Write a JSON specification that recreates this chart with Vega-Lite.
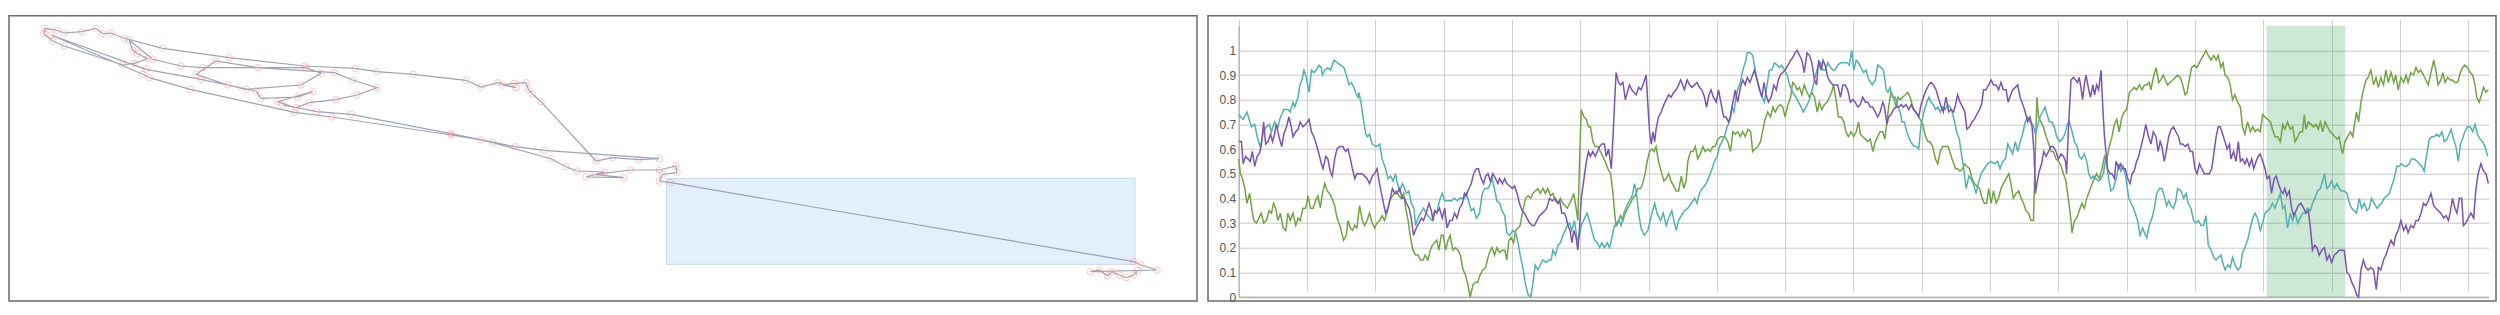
{
"$schema": "https://vega.github.io/schema/vega-lite/v6.json",
"background": "white",
"padding": {"left": 8, "top": 14.7, "right": 0, "bottom": 0},
"spacing": 9,
"config": {"view": {"stroke": "#6b6b6b", "strokeWidth": 1.5}},
"datasets": {
"box": [{"x1": 657.3, "x2": 1126, "y1": 36.7, "y2": 122.7}],
"track": [
{"x":273.7,"y":196},{"x":308,"y":189.3},{"x":342,"y":186.7},{"x":442,"y":167.3},{"x":506,"y":154.3},{"x":535.3,"y":150.7},
{"x":650.3,"y":142.3},{"x":629.7,"y":141.3},{"x":603.7,"y":143.3},{"x":587,"y":140},{"x":532,"y":199.3},{"x":523.7,"y":206.7},{"x":519.3,"y":211.7},{"x":517,"y":218.3},{"x":505.3,"y":217.7},{"x":493.7,"y":216},{"x":507,"y":213.3},{"x":488.7,"y":218.3},{"x":472,"y":214},{"x":457,"y":220.7},{"x":404.3,"y":226.7},{"x":368,"y":229.3},{"x":346,"y":232.7},{"x":295.3,"y":235},{"x":220.3,"y":243.3},{"x":153.7,"y":252.7},{"x":115.3,"y":262.7},{"x":102,"y":268},{"x":93.7,"y":267.3},{"x":87,"y":272.7},{"x":73,"y":269.3},{"x":55.3,"y":268},{"x":48,"y":270.7},{"x":36,"y":272.7},{"x":34.7,"y":267.3},{"x":43.7,"y":260},{"x":55.3,"y":255},{"x":113.7,"y":236},{"x":125.3,"y":237.7},{"x":138.7,"y":242.3},{"x":128.7,"y":247.3},{"x":123.7,"y":250.7},{"x":120.3,"y":260.7},{"x":143.7,"y":241.7},{"x":172,"y":235},{"x":193.7,"y":233.3},{"x":297,"y":233.3},{"x":312,"y":227.7},{"x":292,"y":216},{"x":237,"y":211.7},{"x":218.7,"y":216},{"x":187,"y":226.7},{"x":207,"y":240},{"x":248.7,"y":233.3},{"x":325.3,"y":228.3},{"x":343.7,"y":221},{"x":368,"y":213.3},{"x":348,"y":206},{"x":327,"y":201.3},{"x":300.3,"y":198.3},{"x":287,"y":193.3},{"x":268.7,"y":199.3},{"x":303.7,"y":209.3},{"x":288.7,"y":204},{"x":252,"y":202.7},{"x":247,"y":210},{"x":192,"y":221.7},{"x":137,"y":231.7},{"x":42,"y":266},{"x":133.7,"y":226.7},{"x":140.3,"y":223.3},{"x":181.3,"y":211.7},{"x":285.3,"y":188.7},{"x":322.7,"y":184},{"x":442,"y":166},{"x":472,"y":161},{"x":483.7,"y":158.3},{"x":542,"y":142.3},{"x":557,"y":134.3},{"x":568,"y":130},{"x":595.3,"y":129},{"x":577,"y":124},{"x":614.7,"y":123.3},{"x":586,"y":126.7},{"x":621.3,"y":131},{"x":650.3,"y":131},{"x":667,"y":135},{"x":668,"y":128.3},{"x":653.7,"y":126.7},{"x":650.3,"y":120},{"x":662,"y":118.3},{"x":1124.7,"y":39.3},{"x":1132,"y":36},{"x":1148,"y":31},{"x":1081.3,"y":29.3},{"x":1090.3,"y":31},{"x":1098.7,"y":25},{"x":1102.7,"y":29.3},{"x":1110.3,"y":26},{"x":1117,"y":23.3},{"x":1124.7,"y":26},{"x":1128.7,"y":30.7}
],
"band": [{"start": 301, "end": 324}],
"teal": [
{"t":0,"v":0.74},{"t":1.3,"v":0.72},{"t":2.4,"v":0.75},{"t":3.7,"v":0.69},{"t":4.7,"v":0.70},{"t":5.4,"v":0.65},{"t":6.3,"v":0.61},{"t":7.3,"v":0.67},{"t":8.1,"v":0.69},{"t":9,"v":0.70},{"t":9.6,"v":0.67},{"t":10.5,"v":0.71},{"t":11.5,"v":0.69},{"t":12,"v":0.72},{"t":13.2,"v":0.76},{"t":14.4,"v":0.76},{"t":15.1,"v":0.75},{"t":15.9,"v":0.79},{"t":16.4,"v":0.77},{"t":17.4,"v":0.81},{"t":17.9,"v":0.86},{"t":18.5,"v":0.88},{"t":19.1,"v":0.92},{"t":19.8,"v":0.89},{"t":20.6,"v":0.83},{"t":21.3,"v":0.92},{"t":22,"v":0.91},{"t":22.7,"v":0.92},{"t":23.5,"v":0.94},{"t":24.2,"v":0.93},{"t":24.5,"v":0.90},{"t":25.2,"v":0.92},{"t":26.1,"v":0.93},{"t":26.9,"v":0.92},{"t":27.9,"v":0.96},{"t":28.8,"v":0.95},{"t":29.8,"v":0.94},{"t":30.8,"v":0.93},{"t":31.5,"v":0.90},{"t":32.3,"v":0.86},{"t":33,"v":0.87},{"t":33.7,"v":0.85},{"t":34.2,"v":0.83},{"t":34.9,"v":0.81},{"t":35.2,"v":0.83},{"t":35.9,"v":0.78},{"t":36.6,"v":0.71},{"t":37.2,"v":0.66},{"t":37.7,"v":0.65},{"t":38.3,"v":0.66},{"t":39.1,"v":0.62},{"t":40.3,"v":0.61},{"t":41.3,"v":0.62},{"t":42,"v":0.56},{"t":43,"v":0.52},{"t":43.7,"v":0.48},{"t":44.5,"v":0.49},{"t":45.2,"v":0.47},{"t":45.9,"v":0.50},{"t":46.3,"v":0.47},{"t":47.1,"v":0.43},{"t":47.9,"v":0.46},{"t":48.6,"v":0.44},{"t":49.1,"v":0.42},{"t":49.8,"v":0.43},{"t":50.5,"v":0.38},{"t":51.3,"v":0.36},{"t":51.8,"v":0.29},{"t":52.5,"v":0.32},{"t":53.3,"v":0.34},{"t":54.1,"v":0.36},{"t":54.9,"v":0.34},{"t":55.9,"v":0.32},{"t":56.7,"v":0.31},{"t":57.4,"v":0.35},{"t":58,"v":0.34},{"t":58.8,"v":0.39},{"t":59.6,"v":0.42},{"t":60.3,"v":0.39},{"t":61.3,"v":0.39},{"t":62.3,"v":0.39},{"t":63.2,"v":0.40},{"t":63.9,"v":0.39},{"t":64.7,"v":0.40},{"t":65.5,"v":0.40},{"t":66.1,"v":0.40},{"t":66.6,"v":0.42},{"t":67.3,"v":0.39},{"t":68.1,"v":0.35},{"t":68.8,"v":0.36},{"t":69.6,"v":0.32},{"t":70.5,"v":0.34},{"t":71.3,"v":0.42},{"t":72.1,"v":0.44},{"t":73,"v":0.44},{"t":73.7,"v":0.46},{"t":74.2,"v":0.48},{"t":75,"v":0.43},{"t":75.6,"v":0.39},{"t":76.4,"v":0.38},{"t":77.1,"v":0.35},{"t":77.9,"v":0.33},{"t":78.5,"v":0.26},{"t":79.3,"v":0.25},{"t":80.3,"v":0.27},{"t":81.1,"v":0.26},{"t":81.8,"v":0.22},{"t":82.4,"v":0.17},{"t":83.2,"v":0.12},{"t":84,"v":0.05},{"t":84.7,"v":0.01},{"t":85.5,"v":0.00},{"t":86.1,"v":0.05},{"t":86.8,"v":0.13},{"t":87.6,"v":0.11},{"t":88.3,"v":0.13},{"t":89,"v":0.15},{"t":90,"v":0.14},{"t":90.8,"v":0.15},{"t":91.5,"v":0.15},{"t":92,"v":0.19},{"t":92.7,"v":0.17},{"t":93.5,"v":0.21},{"t":94.2,"v":0.22},{"t":94.9,"v":0.25},{"t":95.6,"v":0.27},{"t":96.2,"v":0.29},{"t":96.9,"v":0.30},{"t":97.5,"v":0.27},{"t":98.3,"v":0.31},{"t":99.1,"v":0.23},{"t":99.8,"v":0.25},{"t":100.3,"v":0.29},{"t":101.3,"v":0.32},{"t":102,"v":0.34},{"t":102.7,"v":0.31},{"t":103.4,"v":0.27},{"t":104.2,"v":0.23},{"t":105,"v":0.22},{"t":105.7,"v":0.20},{"t":106.3,"v":0.22},{"t":107.1,"v":0.20},{"t":107.9,"v":0.22},{"t":108.6,"v":0.20},{"t":109.4,"v":0.25},{"t":110,"v":0.29},{"t":110.7,"v":0.29},{"t":111.3,"v":0.31},{"t":112,"v":0.29},{"t":112.8,"v":0.34},{"t":113.6,"v":0.37},{"t":114.4,"v":0.39},{"t":115.2,"v":0.41},{"t":115.9,"v":0.46},{"t":116.4,"v":0.43},{"t":117.1,"v":0.34},{"t":117.8,"v":0.28},{"t":118.8,"v":0.25},{"t":119.8,"v":0.27},{"t":120.8,"v":0.33},{"t":121.8,"v":0.38},{"t":122.5,"v":0.34},{"t":123.5,"v":0.31},{"t":124.3,"v":0.34},{"t":125.2,"v":0.29},{"t":125.9,"v":0.32},{"t":126.8,"v":0.35},{"t":127.6,"v":0.30},{"t":128.1,"v":0.27},{"t":128.8,"v":0.31},{"t":129.6,"v":0.33},{"t":130.5,"v":0.35},{"t":131.5,"v":0.36},{"t":132.5,"v":0.38},{"t":133.5,"v":0.40},{"t":134.2,"v":0.38},{"t":134.9,"v":0.42},{"t":135.7,"v":0.44},{"t":136.4,"v":0.45},{"t":137.2,"v":0.47},{"t":137.8,"v":0.49},{"t":138.6,"v":0.52},{"t":139.3,"v":0.55},{"t":140.1,"v":0.57},{"t":140.8,"v":0.61},{"t":141.5,"v":0.63},{"t":142.2,"v":0.65},{"t":143,"v":0.69},{"t":143.7,"v":0.71},{"t":144.4,"v":0.77},{"t":145,"v":0.75},{"t":145.7,"v":0.82},{"t":146.3,"v":0.85},{"t":146.9,"v":0.87},{"t":147.6,"v":0.92},{"t":148.3,"v":0.95},{"t":148.9,"v":0.99},{"t":149.8,"v":0.99},{"t":150.5,"v":0.98},{"t":151,"v":0.94},{"t":151.8,"v":0.88},{"t":152.6,"v":0.84},{"t":153.3,"v":0.81},{"t":153.9,"v":0.79},{"t":154.6,"v":0.85},{"t":155.4,"v":0.92},{"t":156.1,"v":0.92},{"t":156.9,"v":0.95},{"t":157.7,"v":0.94},{"t":158.3,"v":0.93},{"t":159,"v":0.94},{"t":159.8,"v":0.92},{"t":160.6,"v":0.90},{"t":161.3,"v":0.86},{"t":162.2,"v":0.83},{"t":163.2,"v":0.81},{"t":163.9,"v":0.79},{"t":164.7,"v":0.77},{"t":165.3,"v":0.75},{"t":166.1,"v":0.77},{"t":167.1,"v":0.80},{"t":168.1,"v":0.85},{"t":168.9,"v":0.90},{"t":169.5,"v":0.93},{"t":170.3,"v":0.95},{"t":171,"v":0.92},{"t":171.8,"v":0.92},{"t":172.5,"v":0.95},{"t":173.3,"v":0.93},{"t":174,"v":0.92},{"t":174.6,"v":0.92},{"t":175.4,"v":0.94},{"t":176.2,"v":0.95},{"t":177.2,"v":0.95},{"t":178.1,"v":0.95},{"t":178.8,"v":0.94},{"t":179.5,"v":1.0},{"t":180.1,"v":0.92},{"t":180.8,"v":0.96},{"t":181.5,"v":0.95},{"t":182.2,"v":0.93},{"t":183,"v":0.91},{"t":183.7,"v":0.92},{"t":184.5,"v":0.88},{"t":185.5,"v":0.86},{"t":186.4,"v":0.88},{"t":187.1,"v":0.94},{"t":188.1,"v":0.93},{"t":188.8,"v":0.92},{"t":189.6,"v":0.84},{"t":190.1,"v":0.83},{"t":190.7,"v":0.85},{"t":191.5,"v":0.81},{"t":192.3,"v":0.81},{"t":193,"v":0.77},{"t":193.7,"v":0.75},{"t":194.2,"v":0.71},{"t":194.9,"v":0.71},{"t":195.6,"v":0.67},{"t":196.4,"v":0.64},{"t":197.2,"v":0.62},{"t":197.8,"v":0.61},{"t":198.5,"v":0.61},{"t":199.1,"v":0.60},{"t":199.8,"v":0.70},{"t":200.8,"v":0.76},{"t":201.5,"v":0.79},{"t":202.1,"v":0.81},{"t":202.7,"v":0.79},{"t":203.4,"v":0.78},{"t":204,"v":0.76},{"t":204.7,"v":0.77},{"t":205.4,"v":0.75},{"t":206.1,"v":0.77},{"t":206.9,"v":0.76},{"t":207.6,"v":0.78},{"t":208.3,"v":0.77},{"t":208.9,"v":0.75},{"t":209.6,"v":0.71},{"t":210.2,"v":0.67},{"t":211,"v":0.64},{"t":211.6,"v":0.58},{"t":212.3,"v":0.52},{"t":213,"v":0.44},{"t":213.8,"v":0.49},{"t":214.4,"v":0.48},{"t":215.1,"v":0.46},{"t":215.9,"v":0.42},{"t":216.7,"v":0.47},{"t":217.4,"v":0.50},{"t":218.3,"v":0.52},{"t":219.3,"v":0.54},{"t":220.3,"v":0.55},{"t":221.3,"v":0.54},{"t":222.2,"v":0.55},{"t":222.9,"v":0.52},{"t":223.7,"v":0.55},{"t":224.5,"v":0.56},{"t":225.2,"v":0.62},{"t":225.9,"v":0.60},{"t":226.6,"v":0.58},{"t":227.4,"v":0.63},{"t":228.1,"v":0.59},{"t":228.8,"v":0.63},{"t":229.5,"v":0.66},{"t":230.3,"v":0.71},{"t":231,"v":0.73},{"t":231.7,"v":0.71},{"t":232.5,"v":0.70},{"t":233.3,"v":0.66},{"t":234,"v":0.70},{"t":234.6,"v":0.73},{"t":235.4,"v":0.75},{"t":236.1,"v":0.77},{"t":236.7,"v":0.74},{"t":237.4,"v":0.71},{"t":238.1,"v":0.71},{"t":238.8,"v":0.69},{"t":239.5,"v":0.65},{"t":240.3,"v":0.63},{"t":241.1,"v":0.64},{"t":241.9,"v":0.66},{"t":242.6,"v":0.70},{"t":243.2,"v":0.71},{"t":244,"v":0.67},{"t":244.7,"v":0.63},{"t":245.5,"v":0.61},{"t":246.1,"v":0.57},{"t":246.8,"v":0.56},{"t":247.6,"v":0.58},{"t":248.3,"v":0.55},{"t":248.9,"v":0.50},{"t":249.6,"v":0.48},{"t":250.2,"v":0.49},{"t":251,"v":0.48},{"t":251.8,"v":0.47},{"t":252.5,"v":0.48},{"t":253.2,"v":0.50},{"t":253.9,"v":0.57},{"t":254.7,"v":0.48},{"t":255.4,"v":0.43},{"t":256.1,"v":0.44},{"t":256.9,"v":0.48},{"t":257.7,"v":0.54},{"t":258.3,"v":0.51},{"t":259,"v":0.53},{"t":259.8,"v":0.48},{"t":260.6,"v":0.40},{"t":261.3,"v":0.38},{"t":262,"v":0.36},{"t":262.5,"v":0.34},{"t":263.2,"v":0.31},{"t":263.9,"v":0.25},{"t":264.7,"v":0.28},{"t":265.2,"v":0.26},{"t":265.9,"v":0.24},{"t":266.6,"v":0.29},{"t":267.4,"v":0.32},{"t":268.1,"v":0.36},{"t":268.8,"v":0.42},{"t":269.6,"v":0.44},{"t":270.3,"v":0.44},{"t":271,"v":0.41},{"t":271.7,"v":0.37},{"t":272.3,"v":0.39},{"t":273,"v":0.37},{"t":273.7,"v":0.36},{"t":274.4,"v":0.39},{"t":274.9,"v":0.44},{"t":275.9,"v":0.43},{"t":276.7,"v":0.40},{"t":277.4,"v":0.42},{"t":278,"v":0.38},{"t":278.8,"v":0.36},{"t":279.6,"v":0.31},{"t":280.3,"v":0.30},{"t":281,"v":0.31},{"t":281.8,"v":0.29},{"t":282.5,"v":0.29},{"t":283.2,"v":0.33},{"t":283.9,"v":0.21},{"t":284.7,"v":0.19},{"t":285.5,"v":0.16},{"t":286.2,"v":0.15},{"t":286.8,"v":0.16},{"t":287.6,"v":0.17},{"t":288.1,"v":0.14},{"t":288.8,"v":0.11},{"t":289.6,"v":0.13},{"t":290.3,"v":0.12},{"t":291,"v":0.16},{"t":291.7,"v":0.13},{"t":292.5,"v":0.11},{"t":293.3,"v":0.12},{"t":293.9,"v":0.18},{"t":294.6,"v":0.20},{"t":295.4,"v":0.23},{"t":296.2,"v":0.28},{"t":296.9,"v":0.32},{"t":297.6,"v":0.34},{"t":298.3,"v":0.32},{"t":299.1,"v":0.27},{"t":299.8,"v":0.30},{"t":300.5,"v":0.34},{"t":301.3,"v":0.35},{"t":302,"v":0.36},{"t":302.7,"v":0.38},{"t":303.4,"v":0.36},{"t":304.2,"v":0.39},{"t":305,"v":0.42},{"t":305.7,"v":0.36},{"t":306.3,"v":0.37},{"t":307.1,"v":0.28},{"t":307.9,"v":0.34},{"t":308.6,"v":0.31},{"t":309.3,"v":0.34},{"t":310.1,"v":0.30},{"t":310.8,"v":0.32},{"t":311.5,"v":0.34},{"t":312.2,"v":0.34},{"t":313,"v":0.36},{"t":313.8,"v":0.35},{"t":314.4,"v":0.38},{"t":315.1,"v":0.40},{"t":315.9,"v":0.43},{"t":316.7,"v":0.44},{"t":317.4,"v":0.47},{"t":317.9,"v":0.50},{"t":318.6,"v":0.44},{"t":319.3,"v":0.45},{"t":320,"v":0.47},{"t":320.8,"v":0.44},{"t":321.6,"v":0.46},{"t":322.2,"v":0.44},{"t":322.9,"v":0.43},{"t":323.7,"v":0.43},{"t":324.5,"v":0.42},{"t":325.2,"v":0.38},{"t":325.9,"v":0.36},{"t":326.6,"v":0.35},{"t":327.3,"v":0.34},{"t":328.1,"v":0.40},{"t":328.8,"v":0.36},{"t":329.6,"v":0.38},{"t":330.3,"v":0.35},{"t":331,"v":0.36},{"t":331.7,"v":0.40},{"t":332.5,"v":0.38},{"t":333.3,"v":0.36},{"t":333.9,"v":0.37},{"t":334.6,"v":0.38},{"t":335.4,"v":0.40},{"t":336.2,"v":0.41},{"t":336.9,"v":0.42},{"t":337.6,"v":0.45},{"t":338.3,"v":0.48},{"t":339.1,"v":0.53},{"t":339.8,"v":0.53},{"t":340.5,"v":0.54},{"t":341.3,"v":0.53},{"t":342,"v":0.53},{"t":342.7,"v":0.54},{"t":343.4,"v":0.56},{"t":344.2,"v":0.56},{"t":345,"v":0.55},{"t":345.7,"v":0.54},{"t":346.4,"v":0.53},{"t":347.1,"v":0.51},{"t":347.9,"v":0.58},{"t":348.6,"v":0.64},{"t":349.3,"v":0.65},{"t":350,"v":0.65},{"t":350.8,"v":0.66},{"t":351.5,"v":0.65},{"t":352.3,"v":0.67},{"t":353,"v":0.63},{"t":353.8,"v":0.64},{"t":354.4,"v":0.66},{"t":355,"v":0.68},{"t":355.7,"v":0.64},{"t":356.4,"v":0.61},{"t":357.1,"v":0.55},{"t":357.7,"v":0.62},{"t":358.3,"v":0.64},{"t":359,"v":0.67},{"t":359.8,"v":0.69},{"t":360.6,"v":0.69},{"t":361.3,"v":0.67},{"t":362,"v":0.70},{"t":362.7,"v":0.66},{"t":363.5,"v":0.64},{"t":364.2,"v":0.63},{"t":364.9,"v":0.61},{"t":365.7,"v":0.57}
],
"purple": [
{"t":0,"v":0.63},{"t":0.8,"v":0.63},{"t":1.3,"v":0.54},{"t":2,"v":0.57},{"t":2.7,"v":0.56},{"t":3.4,"v":0.55},{"t":4,"v":0.59},{"t":4.7,"v":0.53},{"t":5.4,"v":0.57},{"t":6,"v":0.58},{"t":6.6,"v":0.61},{"t":7.3,"v":0.71},{"t":7.9,"v":0.62},{"t":8.6,"v":0.63},{"t":9.3,"v":0.66},{"t":9.9,"v":0.63},{"t":10.5,"v":0.66},{"t":11,"v":0.70},{"t":11.8,"v":0.65},{"t":12.6,"v":0.61},{"t":13.2,"v":0.66},{"t":14,"v":0.69},{"t":14.7,"v":0.73},{"t":15.4,"v":0.69},{"t":15.9,"v":0.65},{"t":16.7,"v":0.67},{"t":17.4,"v":0.68},{"t":18,"v":0.71},{"t":18.8,"v":0.69},{"t":19.6,"v":0.70},{"t":20.6,"v":0.72},{"t":21.3,"v":0.67},{"t":22,"v":0.65},{"t":22.7,"v":0.62},{"t":23.5,"v":0.58},{"t":24.2,"v":0.54},{"t":24.7,"v":0.52},{"t":25.5,"v":0.57},{"t":26.1,"v":0.56},{"t":26.8,"v":0.51},{"t":27.4,"v":0.49},{"t":28.1,"v":0.56},{"t":28.8,"v":0.60},{"t":29.6,"v":0.61},{"t":30.5,"v":0.61},{"t":31.3,"v":0.59},{"t":32,"v":0.60},{"t":32.7,"v":0.56},{"t":33.3,"v":0.52},{"t":34,"v":0.48},{"t":34.6,"v":0.50},{"t":35.4,"v":0.50},{"t":36.1,"v":0.50},{"t":36.9,"v":0.49},{"t":37.6,"v":0.48},{"t":38.3,"v":0.46},{"t":39.1,"v":0.49},{"t":39.8,"v":0.50},{"t":40.5,"v":0.52},{"t":41.1,"v":0.47},{"t":41.8,"v":0.42},{"t":42.4,"v":0.38},{"t":43,"v":0.34},{"t":43.7,"v":0.36},{"t":44.4,"v":0.40},{"t":45,"v":0.44},{"t":45.7,"v":0.42},{"t":46.3,"v":0.42},{"t":47.1,"v":0.44},{"t":47.9,"v":0.40},{"t":48.6,"v":0.40},{"t":49.1,"v":0.38},{"t":49.9,"v":0.36},{"t":50.5,"v":0.32},{"t":51.2,"v":0.25},{"t":52,"v":0.28},{"t":52.8,"v":0.30},{"t":53.5,"v":0.32},{"t":54.1,"v":0.31},{"t":54.9,"v":0.34},{"t":55.7,"v":0.38},{"t":56.4,"v":0.35},{"t":56.9,"v":0.31},{"t":57.4,"v":0.35},{"t":58,"v":0.34},{"t":58.8,"v":0.36},{"t":59.6,"v":0.32},{"t":60.3,"v":0.36},{"t":61,"v":0.28},{"t":61.8,"v":0.31},{"t":62.5,"v":0.31},{"t":63.2,"v":0.34},{"t":63.9,"v":0.32},{"t":64.7,"v":0.36},{"t":65.5,"v":0.38},{"t":66.1,"v":0.42},{"t":66.6,"v":0.41},{"t":67.4,"v":0.44},{"t":68.1,"v":0.46},{"t":68.8,"v":0.50},{"t":69.6,"v":0.52},{"t":70.2,"v":0.52},{"t":71,"v":0.48},{"t":71.7,"v":0.46},{"t":72.3,"v":0.49},{"t":73,"v":0.50},{"t":73.7,"v":0.47},{"t":74.4,"v":0.50},{"t":75.2,"v":0.48},{"t":75.9,"v":0.46},{"t":76.4,"v":0.48},{"t":77.2,"v":0.46},{"t":77.9,"v":0.48},{"t":78.5,"v":0.46},{"t":79.3,"v":0.45},{"t":80.1,"v":0.44},{"t":80.8,"v":0.45},{"t":81.5,"v":0.42},{"t":82.2,"v":0.38},{"t":83,"v":0.35},{"t":83.7,"v":0.34},{"t":84.4,"v":0.32},{"t":85.2,"v":0.30},{"t":86,"v":0.29},{"t":86.6,"v":0.29},{"t":87.3,"v":0.31},{"t":88.1,"v":0.33},{"t":88.9,"v":0.34},{"t":89.6,"v":0.35},{"t":90.2,"v":0.36},{"t":91,"v":0.40},{"t":91.8,"v":0.39},{"t":92.7,"v":0.40},{"t":93.5,"v":0.38},{"t":94,"v":0.39},{"t":94.6,"v":0.34},{"t":95.4,"v":0.34},{"t":95.9,"v":0.32},{"t":96.4,"v":0.29},{"t":97,"v":0.27},{"t":97.6,"v":0.22},{"t":98.1,"v":0.27},{"t":98.8,"v":0.24},{"t":99.3,"v":0.19},{"t":99.8,"v":0.28},{"t":100.3,"v":0.40},{"t":101.1,"v":0.48},{"t":101.8,"v":0.55},{"t":102.4,"v":0.59},{"t":103,"v":0.57},{"t":103.7,"v":0.59},{"t":104.4,"v":0.57},{"t":105,"v":0.59},{"t":105.7,"v":0.61},{"t":106.3,"v":0.62},{"t":107.1,"v":0.62},{"t":107.6,"v":0.57},{"t":108.3,"v":0.60},{"t":109.1,"v":0.52},{"t":109.6,"v":0.65},{"t":110,"v":0.77},{"t":110.5,"v":0.91},{"t":111.2,"v":0.87},{"t":111.8,"v":0.86},{"t":112.5,"v":0.87},{"t":113.2,"v":0.80},{"t":113.8,"v":0.83},{"t":114.4,"v":0.86},{"t":115.1,"v":0.84},{"t":115.7,"v":0.83},{"t":116.4,"v":0.82},{"t":117.1,"v":0.85},{"t":117.8,"v":0.84},{"t":118.6,"v":0.87},{"t":119.3,"v":0.90},{"t":119.8,"v":0.78},{"t":120.3,"v":0.67},{"t":120.8,"v":0.62},{"t":121.3,"v":0.67},{"t":121.8,"v":0.63},{"t":122.2,"v":0.68},{"t":122.9,"v":0.73},{"t":123.7,"v":0.75},{"t":124.5,"v":0.78},{"t":125.2,"v":0.80},{"t":125.9,"v":0.82},{"t":126.6,"v":0.81},{"t":127.4,"v":0.83},{"t":128.1,"v":0.84},{"t":128.8,"v":0.86},{"t":129.4,"v":0.88},{"t":130,"v":0.86},{"t":130.5,"v":0.84},{"t":131.3,"v":0.88},{"t":132,"v":0.86},{"t":132.7,"v":0.85},{"t":133.5,"v":0.86},{"t":134.2,"v":0.87},{"t":134.9,"v":0.85},{"t":135.6,"v":0.84},{"t":136.4,"v":0.81},{"t":137,"v":0.77},{"t":137.7,"v":0.82},{"t":138.3,"v":0.84},{"t":139,"v":0.81},{"t":139.8,"v":0.79},{"t":140.5,"v":0.84},{"t":141.3,"v":0.78},{"t":142,"v":0.73},{"t":142.7,"v":0.73},{"t":143.4,"v":0.71},{"t":144,"v":0.73},{"t":144.7,"v":0.79},{"t":145.4,"v":0.84},{"t":146.1,"v":0.79},{"t":146.9,"v":0.85},{"t":147.6,"v":0.88},{"t":148.3,"v":0.86},{"t":148.9,"v":0.89},{"t":149.7,"v":0.87},{"t":150.2,"v":0.89},{"t":151,"v":0.92},{"t":151.8,"v":0.88},{"t":152.5,"v":0.84},{"t":153.2,"v":0.81},{"t":153.8,"v":0.87},{"t":154.4,"v":0.82},{"t":155.1,"v":0.79},{"t":155.9,"v":0.81},{"t":156.7,"v":0.86},{"t":157.4,"v":0.84},{"t":158,"v":0.88},{"t":158.6,"v":0.90},{"t":159.3,"v":0.91},{"t":160,"v":0.92},{"t":160.8,"v":0.94},{"t":161.6,"v":0.96},{"t":162.2,"v":0.97},{"t":162.9,"v":0.99},{"t":163.5,"v":1.0},{"t":164.2,"v":0.98},{"t":164.9,"v":0.96},{"t":165.6,"v":0.91},{"t":166.4,"v":0.99},{"t":167.1,"v":0.98},{"t":167.8,"v":0.95},{"t":168.6,"v":0.88},{"t":169.2,"v":0.86},{"t":169.8,"v":0.96},{"t":170.5,"v":0.92},{"t":171.1,"v":0.96},{"t":171.7,"v":0.94},{"t":172.5,"v":0.89},{"t":173.3,"v":0.87},{"t":174,"v":0.86},{"t":174.6,"v":0.86},{"t":175.4,"v":0.86},{"t":176.2,"v":0.81},{"t":176.9,"v":0.86},{"t":177.6,"v":0.86},{"t":178.3,"v":0.84},{"t":179.1,"v":0.79},{"t":179.8,"v":0.80},{"t":180.5,"v":0.79},{"t":181.3,"v":0.77},{"t":182,"v":0.78},{"t":182.7,"v":0.81},{"t":183.5,"v":0.79},{"t":184.2,"v":0.79},{"t":184.9,"v":0.77},{"t":185.6,"v":0.77},{"t":186.4,"v":0.75},{"t":187.1,"v":0.73},{"t":187.8,"v":0.75},{"t":188.6,"v":0.79},{"t":189.1,"v":0.77},{"t":189.8,"v":0.70},{"t":190.3,"v":0.73},{"t":191,"v":0.74},{"t":191.7,"v":0.76},{"t":192.5,"v":0.77},{"t":193.3,"v":0.77},{"t":194,"v":0.78},{"t":194.6,"v":0.77},{"t":195.4,"v":0.78},{"t":196.2,"v":0.76},{"t":196.9,"v":0.78},{"t":197.6,"v":0.76},{"t":198.3,"v":0.75},{"t":199.1,"v":0.73},{"t":199.8,"v":0.78},{"t":200.5,"v":0.81},{"t":201.3,"v":0.84},{"t":202.1,"v":0.86},{"t":202.7,"v":0.87},{"t":203.4,"v":0.86},{"t":204.2,"v":0.84},{"t":205,"v":0.80},{"t":205.7,"v":0.77},{"t":206.3,"v":0.75},{"t":207.1,"v":0.81},{"t":207.9,"v":0.75},{"t":208.6,"v":0.76},{"t":209.3,"v":0.75},{"t":209.9,"v":0.78},{"t":210.5,"v":0.82},{"t":211.2,"v":0.79},{"t":212,"v":0.77},{"t":212.6,"v":0.75},{"t":213.2,"v":0.68},{"t":214,"v":0.69},{"t":214.7,"v":0.71},{"t":215.4,"v":0.72},{"t":216.1,"v":0.74},{"t":216.9,"v":0.76},{"t":217.5,"v":0.78},{"t":218.1,"v":0.84},{"t":218.8,"v":0.84},{"t":219.6,"v":0.86},{"t":220.3,"v":0.88},{"t":221,"v":0.86},{"t":221.8,"v":0.86},{"t":222.5,"v":0.84},{"t":223.2,"v":0.87},{"t":223.9,"v":0.84},{"t":224.7,"v":0.84},{"t":225.3,"v":0.79},{"t":225.8,"v":0.81},{"t":226.6,"v":0.84},{"t":227.4,"v":0.85},{"t":228.1,"v":0.86},{"t":228.8,"v":0.81},{"t":229.6,"v":0.78},{"t":230.3,"v":0.75},{"t":231,"v":0.71},{"t":231.7,"v":0.73},{"t":232.3,"v":0.69},{"t":232.9,"v":0.58},{"t":233.3,"v":0.42},{"t":233.8,"v":0.47},{"t":234.4,"v":0.51},{"t":235.1,"v":0.54},{"t":235.7,"v":0.59},{"t":236.4,"v":0.57},{"t":237.1,"v":0.59},{"t":237.8,"v":0.61},{"t":238.5,"v":0.61},{"t":239.3,"v":0.59},{"t":240,"v":0.56},{"t":240.8,"v":0.58},{"t":241.5,"v":0.57},{"t":242.1,"v":0.55},{"t":242.4,"v":0.50},{"t":243,"v":0.70},{"t":243.7,"v":0.88},{"t":244.4,"v":0.89},{"t":245,"v":0.88},{"t":245.6,"v":0.87},{"t":246.1,"v":0.89},{"t":246.6,"v":0.85},{"t":247.1,"v":0.80},{"t":247.6,"v":0.86},{"t":248.1,"v":0.90},{"t":248.9,"v":0.84},{"t":249.4,"v":0.81},{"t":250.1,"v":0.86},{"t":250.6,"v":0.82},{"t":251.2,"v":0.86},{"t":251.8,"v":0.84},{"t":252.5,"v":0.92},{"t":253,"v":0.77},{"t":253.5,"v":0.65},{"t":254,"v":0.58},{"t":254.4,"v":0.52},{"t":255.1,"v":0.50},{"t":255.7,"v":0.50},{"t":256.4,"v":0.48},{"t":256.9,"v":0.55},{"t":257.7,"v":0.52},{"t":258.3,"v":0.54},{"t":258.8,"v":0.52},{"t":259.6,"v":0.52},{"t":260.3,"v":0.48},{"t":261,"v":0.46},{"t":261.6,"v":0.50},{"t":262.2,"v":0.51},{"t":262.9,"v":0.55},{"t":263.5,"v":0.57},{"t":264.2,"v":0.61},{"t":264.9,"v":0.65},{"t":265.6,"v":0.70},{"t":266.4,"v":0.65},{"t":267.1,"v":0.62},{"t":267.8,"v":0.67},{"t":268.6,"v":0.65},{"t":269.2,"v":0.59},{"t":269.8,"v":0.63},{"t":270.3,"v":0.61},{"t":271,"v":0.55},{"t":271.7,"v":0.60},{"t":272.3,"v":0.65},{"t":273,"v":0.68},{"t":273.7,"v":0.69},{"t":274.4,"v":0.67},{"t":275.2,"v":0.65},{"t":275.7,"v":0.62},{"t":276.4,"v":0.62},{"t":277.1,"v":0.61},{"t":277.9,"v":0.62},{"t":278.6,"v":0.59},{"t":279.3,"v":0.59},{"t":280,"v":0.52},{"t":280.6,"v":0.50},{"t":281.3,"v":0.54},{"t":282,"v":0.52},{"t":282.7,"v":0.50},{"t":283.5,"v":0.50},{"t":284.2,"v":0.50},{"t":284.9,"v":0.52},{"t":285.5,"v":0.58},{"t":286.2,"v":0.65},{"t":286.8,"v":0.69},{"t":287.4,"v":0.69},{"t":288.1,"v":0.66},{"t":288.8,"v":0.63},{"t":289.4,"v":0.60},{"t":290.1,"v":0.62},{"t":290.5,"v":0.56},{"t":291.3,"v":0.59},{"t":292,"v":0.55},{"t":292.7,"v":0.63},{"t":293.3,"v":0.55},{"t":293.9,"v":0.56},{"t":294.6,"v":0.54},{"t":295.2,"v":0.56},{"t":295.9,"v":0.53},{"t":296.6,"v":0.56},{"t":297.2,"v":0.52},{"t":297.9,"v":0.55},{"t":298.5,"v":0.57},{"t":299.1,"v":0.58},{"t":299.8,"v":0.55},{"t":300.5,"v":0.52},{"t":301.1,"v":0.48},{"t":301.8,"v":0.49},{"t":302.4,"v":0.42},{"t":303.2,"v":0.48},{"t":303.8,"v":0.49},{"t":304.4,"v":0.46},{"t":305.2,"v":0.43},{"t":305.8,"v":0.42},{"t":306.3,"v":0.44},{"t":306.9,"v":0.41},{"t":307.6,"v":0.43},{"t":308.3,"v":0.36},{"t":308.9,"v":0.33},{"t":309.6,"v":0.35},{"t":310.2,"v":0.37},{"t":311,"v":0.38},{"t":311.8,"v":0.36},{"t":312.5,"v":0.34},{"t":313.2,"v":0.35},{"t":313.8,"v":0.28},{"t":314.4,"v":0.19},{"t":315.1,"v":0.21},{"t":315.7,"v":0.20},{"t":316.4,"v":0.17},{"t":317.1,"v":0.19},{"t":317.9,"v":0.20},{"t":318.6,"v":0.15},{"t":319.3,"v":0.17},{"t":320,"v":0.14},{"t":320.8,"v":0.17},{"t":321.6,"v":0.18},{"t":322.2,"v":0.19},{"t":323,"v":0.19},{"t":323.7,"v":0.19},{"t":324.5,"v":0.10},{"t":325.2,"v":0.09},{"t":325.9,"v":0.06},{"t":326.6,"v":0.04},{"t":327.3,"v":0.01},{"t":327.9,"v":0.0},{"t":328.6,"v":0.11},{"t":329.3,"v":0.15},{"t":330,"v":0.12},{"t":330.7,"v":0.11},{"t":331.5,"v":0.12},{"t":332.3,"v":0.11},{"t":333.1,"v":0.03},{"t":333.7,"v":0.12},{"t":334.4,"v":0.11},{"t":335.2,"v":0.15},{"t":335.9,"v":0.17},{"t":336.6,"v":0.20},{"t":337.4,"v":0.23},{"t":338.2,"v":0.21},{"t":338.8,"v":0.25},{"t":339.5,"v":0.27},{"t":340.3,"v":0.31},{"t":341.1,"v":0.27},{"t":341.8,"v":0.29},{"t":342.4,"v":0.26},{"t":343.2,"v":0.29},{"t":344,"v":0.28},{"t":344.7,"v":0.31},{"t":345.4,"v":0.31},{"t":346.2,"v":0.34},{"t":346.9,"v":0.38},{"t":347.6,"v":0.37},{"t":348.3,"v":0.39},{"t":349.1,"v":0.42},{"t":349.9,"v":0.37},{"t":350.5,"v":0.36},{"t":351.2,"v":0.35},{"t":352,"v":0.34},{"t":352.8,"v":0.32},{"t":353.5,"v":0.33},{"t":354.2,"v":0.31},{"t":354.7,"v":0.34},{"t":355.4,"v":0.40},{"t":356.1,"v":0.36},{"t":356.7,"v":0.34},{"t":357.4,"v":0.40},{"t":358.1,"v":0.40},{"t":358.6,"v":0.29},{"t":359.3,"v":0.30},{"t":360,"v":0.32},{"t":360.8,"v":0.34},{"t":361.6,"v":0.32},{"t":362.2,"v":0.43},{"t":362.9,"v":0.50},{"t":363.7,"v":0.54},{"t":364.5,"v":0.51},{"t":365.2,"v":0.50},{"t":365.9,"v":0.46}
],
"green": [
{"t":0,"v":0.56},{"t":0.5,"v":0.50},{"t":1.1,"v":0.48},{"t":1.8,"v":0.44},{"t":2.4,"v":0.38},{"t":3.2,"v":0.42},{"t":3.8,"v":0.36},{"t":4.4,"v":0.31},{"t":5.2,"v":0.30},{"t":5.9,"v":0.32},{"t":6.6,"v":0.34},{"t":7.3,"v":0.30},{"t":8.1,"v":0.31},{"t":8.9,"v":0.35},{"t":9.6,"v":0.34},{"t":10.2,"v":0.38},{"t":10.8,"v":0.36},{"t":11.5,"v":0.31},{"t":12.2,"v":0.34},{"t":13,"v":0.28},{"t":13.8,"v":0.27},{"t":14.4,"v":0.34},{"t":15.1,"v":0.31},{"t":15.9,"v":0.34},{"t":16.7,"v":0.29},{"t":17.4,"v":0.32},{"t":18,"v":0.31},{"t":18.8,"v":0.36},{"t":19.6,"v":0.36},{"t":20.3,"v":0.41},{"t":21,"v":0.36},{"t":21.8,"v":0.36},{"t":22.5,"v":0.39},{"t":23.2,"v":0.41},{"t":23.9,"v":0.36},{"t":24.5,"v":0.42},{"t":25.2,"v":0.46},{"t":25.9,"v":0.43},{"t":26.6,"v":0.42},{"t":27.3,"v":0.40},{"t":28.1,"v":0.37},{"t":28.8,"v":0.32},{"t":29.6,"v":0.29},{"t":30,"v":0.27},{"t":30.7,"v":0.23},{"t":31.5,"v":0.25},{"t":32,"v":0.31},{"t":32.7,"v":0.28},{"t":33.3,"v":0.27},{"t":34,"v":0.29},{"t":34.6,"v":0.28},{"t":35.4,"v":0.37},{"t":36.2,"v":0.31},{"t":36.9,"v":0.29},{"t":37.6,"v":0.31},{"t":38.3,"v":0.34},{"t":39.1,"v":0.30},{"t":39.8,"v":0.28},{"t":40.5,"v":0.30},{"t":41.3,"v":0.31},{"t":42,"v":0.33},{"t":42.7,"v":0.31},{"t":43.4,"v":0.34},{"t":44.2,"v":0.39},{"t":45,"v":0.41},{"t":45.7,"v":0.42},{"t":46.1,"v":0.43},{"t":46.9,"v":0.41},{"t":47.6,"v":0.40},{"t":48.3,"v":0.42},{"t":48.9,"v":0.36},{"t":49.6,"v":0.31},{"t":50.2,"v":0.25},{"t":51,"v":0.19},{"t":51.8,"v":0.17},{"t":52.5,"v":0.17},{"t":53.2,"v":0.15},{"t":54,"v":0.15},{"t":54.6,"v":0.17},{"t":55.4,"v":0.15},{"t":56.1,"v":0.19},{"t":56.7,"v":0.21},{"t":57.4,"v":0.22},{"t":58,"v":0.23},{"t":58.6,"v":0.19},{"t":59.3,"v":0.25},{"t":59.9,"v":0.25},{"t":60.6,"v":0.19},{"t":61.3,"v":0.23},{"t":61.9,"v":0.25},{"t":62.7,"v":0.19},{"t":63.5,"v":0.20},{"t":64.2,"v":0.19},{"t":64.9,"v":0.17},{"t":65.7,"v":0.11},{"t":66.4,"v":0.09},{"t":67.1,"v":0.05},{"t":67.8,"v":0.0},{"t":68.6,"v":0.05},{"t":69.4,"v":0.06},{"t":70,"v":0.06},{"t":70.7,"v":0.09},{"t":71.5,"v":0.11},{"t":72.3,"v":0.12},{"t":73,"v":0.16},{"t":73.7,"v":0.19},{"t":74.2,"v":0.20},{"t":74.9,"v":0.17},{"t":75.6,"v":0.20},{"t":76.4,"v":0.18},{"t":77.2,"v":0.19},{"t":77.9,"v":0.19},{"t":78.5,"v":0.15},{"t":79.1,"v":0.23},{"t":79.8,"v":0.24},{"t":80.5,"v":0.22},{"t":81.1,"v":0.27},{"t":81.8,"v":0.28},{"t":82.4,"v":0.29},{"t":83.2,"v":0.35},{"t":84,"v":0.40},{"t":84.7,"v":0.41},{"t":85.5,"v":0.40},{"t":86.1,"v":0.42},{"t":86.9,"v":0.43},{"t":87.6,"v":0.44},{"t":88.3,"v":0.42},{"t":89.1,"v":0.44},{"t":89.8,"v":0.42},{"t":90.5,"v":0.44},{"t":91.3,"v":0.41},{"t":92,"v":0.42},{"t":92.7,"v":0.39},{"t":93.5,"v":0.38},{"t":94.2,"v":0.40},{"t":94.9,"v":0.38},{"t":95.6,"v":0.37},{"t":96.2,"v":0.36},{"t":96.9,"v":0.38},{"t":97.6,"v":0.40},{"t":98.1,"v":0.42},{"t":98.8,"v":0.36},{"t":99.3,"v":0.31},{"t":99.8,"v":0.55},{"t":100.3,"v":0.76},{"t":101.1,"v":0.73},{"t":101.8,"v":0.72},{"t":102.4,"v":0.69},{"t":103,"v":0.69},{"t":103.7,"v":0.63},{"t":104.4,"v":0.61},{"t":105.2,"v":0.61},{"t":105.9,"v":0.59},{"t":106.6,"v":0.57},{"t":107.3,"v":0.55},{"t":108.1,"v":0.52},{"t":108.9,"v":0.50},{"t":109.6,"v":0.42},{"t":110,"v":0.35},{"t":110.5,"v":0.29},{"t":111.2,"v":0.31},{"t":111.8,"v":0.33},{"t":112.5,"v":0.31},{"t":113.2,"v":0.34},{"t":113.9,"v":0.36},{"t":114.7,"v":0.38},{"t":115.4,"v":0.40},{"t":116.1,"v":0.41},{"t":116.9,"v":0.44},{"t":117.7,"v":0.44},{"t":118.3,"v":0.46},{"t":119,"v":0.50},{"t":119.6,"v":0.55},{"t":120.3,"v":0.59},{"t":121,"v":0.60},{"t":121.6,"v":0.59},{"t":122.2,"v":0.61},{"t":122.9,"v":0.55},{"t":123.7,"v":0.51},{"t":124.5,"v":0.47},{"t":125.2,"v":0.48},{"t":125.9,"v":0.50},{"t":126.6,"v":0.47},{"t":127.4,"v":0.45},{"t":128.1,"v":0.43},{"t":128.8,"v":0.43},{"t":129.6,"v":0.49},{"t":130.3,"v":0.44},{"t":131,"v":0.47},{"t":131.5,"v":0.55},{"t":132.3,"v":0.59},{"t":133,"v":0.59},{"t":133.7,"v":0.61},{"t":134.4,"v":0.56},{"t":135.2,"v":0.58},{"t":135.9,"v":0.61},{"t":136.6,"v":0.59},{"t":137.4,"v":0.60},{"t":138.1,"v":0.59},{"t":138.8,"v":0.61},{"t":139.5,"v":0.61},{"t":140.3,"v":0.64},{"t":141.1,"v":0.65},{"t":141.8,"v":0.65},{"t":142.4,"v":0.65},{"t":143.2,"v":0.63},{"t":144,"v":0.59},{"t":144.7,"v":0.67},{"t":145.4,"v":0.66},{"t":146.1,"v":0.67},{"t":146.9,"v":0.65},{"t":147.6,"v":0.67},{"t":148.3,"v":0.65},{"t":149.1,"v":0.68},{"t":149.9,"v":0.67},{"t":150.5,"v":0.59},{"t":151.2,"v":0.60},{"t":152,"v":0.61},{"t":152.8,"v":0.63},{"t":153.5,"v":0.68},{"t":154.1,"v":0.72},{"t":154.9,"v":0.75},{"t":155.7,"v":0.73},{"t":156.4,"v":0.77},{"t":157.1,"v":0.75},{"t":157.8,"v":0.77},{"t":158.6,"v":0.78},{"t":159.3,"v":0.77},{"t":160,"v":0.73},{"t":160.8,"v":0.78},{"t":161.6,"v":0.81},{"t":162.2,"v":0.87},{"t":162.9,"v":0.86},{"t":163.5,"v":0.84},{"t":164.2,"v":0.85},{"t":164.9,"v":0.82},{"t":165.6,"v":0.86},{"t":166.4,"v":0.83},{"t":167.1,"v":0.81},{"t":167.8,"v":0.83},{"t":168.6,"v":0.81},{"t":169.4,"v":0.75},{"t":170,"v":0.79},{"t":170.7,"v":0.76},{"t":171.5,"v":0.78},{"t":172.3,"v":0.79},{"t":173,"v":0.81},{"t":173.6,"v":0.83},{"t":174.2,"v":0.86},{"t":174.9,"v":0.80},{"t":175.6,"v":0.73},{"t":176.4,"v":0.73},{"t":177.2,"v":0.71},{"t":177.8,"v":0.67},{"t":178.5,"v":0.65},{"t":179.3,"v":0.67},{"t":180.1,"v":0.65},{"t":180.8,"v":0.67},{"t":181.5,"v":0.71},{"t":182,"v":0.66},{"t":182.7,"v":0.65},{"t":183.5,"v":0.64},{"t":184.2,"v":0.63},{"t":184.9,"v":0.64},{"t":185.7,"v":0.59},{"t":186.4,"v":0.63},{"t":187.1,"v":0.65},{"t":187.8,"v":0.67},{"t":188.6,"v":0.67},{"t":189.2,"v":0.64},{"t":189.8,"v":0.71},{"t":190.3,"v":0.77},{"t":191,"v":0.83},{"t":191.7,"v":0.81},{"t":192.5,"v":0.77},{"t":193.1,"v":0.81},{"t":193.7,"v":0.80},{"t":194.4,"v":0.81},{"t":195.2,"v":0.82},{"t":195.9,"v":0.83},{"t":196.6,"v":0.81},{"t":197.4,"v":0.77},{"t":198.1,"v":0.75},{"t":198.8,"v":0.74},{"t":199.5,"v":0.72},{"t":200.3,"v":0.70},{"t":201.1,"v":0.65},{"t":201.8,"v":0.63},{"t":202.4,"v":0.63},{"t":203.2,"v":0.61},{"t":204,"v":0.56},{"t":204.7,"v":0.54},{"t":205.4,"v":0.59},{"t":206.1,"v":0.61},{"t":206.9,"v":0.61},{"t":207.7,"v":0.61},{"t":208.4,"v":0.58},{"t":209.1,"v":0.55},{"t":209.9,"v":0.52},{"t":210.5,"v":0.52},{"t":211.2,"v":0.51},{"t":212,"v":0.52},{"t":212.5,"v":0.54},{"t":213.2,"v":0.53},{"t":214,"v":0.52},{"t":214.7,"v":0.48},{"t":215.4,"v":0.46},{"t":216.1,"v":0.45},{"t":216.9,"v":0.44},{"t":217.7,"v":0.40},{"t":218.3,"v":0.38},{"t":219,"v":0.38},{"t":219.6,"v":0.44},{"t":220.3,"v":0.38},{"t":221,"v":0.43},{"t":221.8,"v":0.38},{"t":222.5,"v":0.40},{"t":223.2,"v":0.44},{"t":223.9,"v":0.46},{"t":224.7,"v":0.48},{"t":225.5,"v":0.50},{"t":226.1,"v":0.46},{"t":226.8,"v":0.40},{"t":227.6,"v":0.42},{"t":228.4,"v":0.43},{"t":229.1,"v":0.40},{"t":229.8,"v":0.38},{"t":230.5,"v":0.35},{"t":231.3,"v":0.34},{"t":232,"v":0.31},{"t":232.7,"v":0.31},{"t":233.2,"v":0.55},{"t":233.7,"v":0.81},{"t":234.2,"v":0.73},{"t":234.9,"v":0.71},{"t":235.6,"v":0.69},{"t":236.4,"v":0.65},{"t":237.2,"v":0.62},{"t":237.9,"v":0.59},{"t":238.5,"v":0.59},{"t":239.3,"v":0.56},{"t":240.1,"v":0.55},{"t":240.8,"v":0.53},{"t":241.5,"v":0.50},{"t":242.2,"v":0.47},{"t":243,"v":0.39},{"t":243.7,"v":0.31},{"t":244,"v":0.26},{"t":244.7,"v":0.31},{"t":245.4,"v":0.32},{"t":246.1,"v":0.35},{"t":246.9,"v":0.38},{"t":247.6,"v":0.36},{"t":248.3,"v":0.40},{"t":249.1,"v":0.43},{"t":249.9,"v":0.46},{"t":250.5,"v":0.48},{"t":251.2,"v":0.50},{"t":252,"v":0.48},{"t":252.8,"v":0.52},{"t":253.5,"v":0.57},{"t":254.1,"v":0.55},{"t":254.9,"v":0.61},{"t":255.7,"v":0.65},{"t":256.4,"v":0.70},{"t":257.1,"v":0.72},{"t":257.8,"v":0.67},{"t":258.6,"v":0.73},{"t":259.3,"v":0.75},{"t":260,"v":0.76},{"t":260.8,"v":0.83},{"t":261.6,"v":0.84},{"t":262.2,"v":0.85},{"t":262.9,"v":0.84},{"t":263.7,"v":0.86},{"t":264.5,"v":0.84},{"t":265.2,"v":0.86},{"t":265.9,"v":0.86},{"t":266.6,"v":0.87},{"t":267.1,"v":0.84},{"t":267.8,"v":0.89},{"t":268.6,"v":0.93},{"t":269.4,"v":0.87},{"t":270,"v":0.88},{"t":270.7,"v":0.90},{"t":271.3,"v":0.88},{"t":272,"v":0.86},{"t":272.7,"v":0.87},{"t":273.5,"v":0.88},{"t":274.2,"v":0.89},{"t":274.9,"v":0.90},{"t":275.7,"v":0.89},{"t":276.4,"v":0.86},{"t":277.1,"v":0.82},{"t":277.7,"v":0.83},{"t":278.3,"v":0.88},{"t":279,"v":0.93},{"t":279.8,"v":0.94},{"t":280.6,"v":0.93},{"t":281.3,"v":0.95},{"t":282,"v":0.97},{"t":282.5,"v":0.98},{"t":283.2,"v":1.0},{"t":283.9,"v":0.98},{"t":284.7,"v":0.96},{"t":285.5,"v":0.98},{"t":286.2,"v":0.96},{"t":286.8,"v":0.98},{"t":287.6,"v":0.93},{"t":288.2,"v":0.95},{"t":288.8,"v":0.90},{"t":289.6,"v":0.89},{"t":290.3,"v":0.86},{"t":291,"v":0.80},{"t":291.7,"v":0.82},{"t":292.5,"v":0.79},{"t":293.3,"v":0.77},{"t":293.9,"v":0.69},{"t":294.6,"v":0.66},{"t":295.4,"v":0.71},{"t":296.2,"v":0.67},{"t":296.9,"v":0.69},{"t":297.6,"v":0.67},{"t":298.3,"v":0.68},{"t":299.1,"v":0.67},{"t":299.8,"v":0.74},{"t":300.5,"v":0.73},{"t":301.3,"v":0.72},{"t":302.1,"v":0.71},{"t":302.7,"v":0.68},{"t":303.4,"v":0.65},{"t":304.2,"v":0.65},{"t":305,"v":0.63},{"t":305.7,"v":0.70},{"t":306.3,"v":0.68},{"t":307.1,"v":0.71},{"t":307.9,"v":0.68},{"t":308.6,"v":0.69},{"t":309.3,"v":0.63},{"t":310.1,"v":0.65},{"t":310.8,"v":0.67},{"t":311.5,"v":0.67},{"t":312,"v":0.74},{"t":312.5,"v":0.68},{"t":313.2,"v":0.71},{"t":314,"v":0.70},{"t":314.7,"v":0.69},{"t":315.4,"v":0.70},{"t":316.1,"v":0.68},{"t":316.7,"v":0.71},{"t":317.4,"v":0.67},{"t":318.1,"v":0.71},{"t":318.8,"v":0.69},{"t":319.6,"v":0.67},{"t":320.3,"v":0.66},{"t":321,"v":0.65},{"t":321.6,"v":0.64},{"t":322.2,"v":0.65},{"t":322.7,"v":0.61},{"t":323.2,"v":0.58},{"t":323.9,"v":0.63},{"t":324.7,"v":0.65},{"t":325.5,"v":0.67},{"t":326.2,"v":0.65},{"t":326.6,"v":0.69},{"t":327.3,"v":0.75},{"t":327.9,"v":0.71},{"t":328.6,"v":0.79},{"t":329.3,"v":0.84},{"t":330.1,"v":0.88},{"t":330.7,"v":0.89},{"t":331.5,"v":0.92},{"t":332.3,"v":0.86},{"t":333,"v":0.89},{"t":333.7,"v":0.85},{"t":334.4,"v":0.89},{"t":335.2,"v":0.86},{"t":335.9,"v":0.92},{"t":336.6,"v":0.87},{"t":337.4,"v":0.91},{"t":338.2,"v":0.87},{"t":338.8,"v":0.90},{"t":339.5,"v":0.84},{"t":340.3,"v":0.89},{"t":341.1,"v":0.87},{"t":341.8,"v":0.90},{"t":342.4,"v":0.87},{"t":343.2,"v":0.91},{"t":344,"v":0.90},{"t":344.7,"v":0.93},{"t":345.4,"v":0.91},{"t":346.1,"v":0.92},{"t":346.9,"v":0.90},{"t":347.6,"v":0.88},{"t":348.3,"v":0.86},{"t":349.1,"v":0.91},{"t":349.9,"v":0.96},{"t":350.5,"v":0.92},{"t":351.2,"v":0.86},{"t":352,"v":0.88},{"t":352.6,"v":0.91},{"t":353.2,"v":0.87},{"t":354,"v":0.89},{"t":354.7,"v":0.88},{"t":355.4,"v":0.88},{"t":356.1,"v":0.87},{"t":356.9,"v":0.87},{"t":357.7,"v":0.91},{"t":358.3,"v":0.93},{"t":359,"v":0.94},{"t":359.8,"v":0.93},{"t":360.6,"v":0.91},{"t":361.3,"v":0.90},{"t":362,"v":0.86},{"t":362.5,"v":0.81},{"t":363.2,"v":0.79},{"t":363.9,"v":0.82},{"t":364.5,"v":0.85},{"t":365.2,"v":0.83},{"t":365.9,"v":0.84}
]
},
"hconcat": [
{
"width": 1188, "height": 285.3,
"layer": [
{"data": {"name": "box"}, "mark": {"type": "rect", "fill": "#e4effc", "stroke": "#c6d6ec", "strokeWidth": 1},
 "encoding": {
  "x": {"field": "x1", "type": "quantitative", "scale": {"domain": [0, 1188], "nice": false, "zero": false}, "axis": null},
  "x2": {"field": "x2"},
  "y": {"field": "y1", "type": "quantitative", "scale": {"domain": [0, 285.3], "nice": false, "zero": false}, "axis": null},
  "y2": {"field": "y2"}}},
{"data": {"name": "track"}, "mark": {"type": "line", "stroke": "#8d93ab", "strokeWidth": 1.2, "opacity": 0.85},
 "encoding": {"x": {"field": "x", "type": "quantitative"}, "y": {"field": "y", "type": "quantitative"}, "order": {"value": null}}},
{"data": {"name": "track"}, "mark": {"type": "point", "shape": "circle", "filled": false, "stroke": "#ff8c8c", "strokeWidth": 1, "size": 42, "opacity": 0.5},
 "encoding": {"x": {"field": "x", "type": "quantitative"}, "y": {"field": "y", "type": "quantitative"}}}
]
},
{
"width": 1288, "height": 285.3,
"layer": [
{"data": {"name": "band"}, "mark": {"type": "rect", "fill": "#2e9e4f", "opacity": 0.24},
 "encoding": {
  "x": {"field": "start", "type": "quantitative",
        "scale": {"domain": [0, 366], "range": [30.7, 1280.7], "nice": false, "zero": false},
        "axis": {"title": null, "values": [0,20,40,60,80,100,120,140,160,180,200,220,240,260,280,300,320,340,360], "tickCount": 40, "labels": false, "ticks": false, "grid": true, "gridColor": "#cfcfcf", "gridWidth": 1, "domain": true, "domainColor": "#b5b5b5", "domainWidth": 1.5, "offset": -4}},
  "x2": {"field": "end"},
  "y": {"datum": 0, "type": "quantitative",
        "scale": {"domain": [0, 1.1], "range": [281.3, 10], "nice": false, "zero": false},
        "axis": {"title": null, "values": [0,0.1,0.2,0.3,0.4,0.5,0.6,0.7,0.8,0.9,1], "tickCount": 20, "format": "~g", "labelOverlap": false, "labelColor": "#555555", "labelFontSize": 12, "labelFont": "Liberation Sans", "labelPadding": 3, "ticks": false, "grid": true, "gridColor": "#c8c8c8", "gridWidth": 1, "domain": true, "domainColor": "#b5b5b5", "domainWidth": 1.5, "offset": -30.7}},
  "y2": {"datum": 1.1}}},
{"data": {"name": "green"}, "mark": {"type": "line", "stroke": "#72a447", "strokeWidth": 1.5},
 "encoding": {"x": {"field": "t", "type": "quantitative"}, "y": {"field": "v", "type": "quantitative"}, "order": {"value": null}}},
{"data": {"name": "teal"}, "mark": {"type": "line", "stroke": "#55b0b0", "strokeWidth": 1.5},
 "encoding": {"x": {"field": "t", "type": "quantitative"}, "y": {"field": "v", "type": "quantitative"}, "order": {"value": null}}},
{"data": {"name": "purple"}, "mark": {"type": "line", "stroke": "#7b55b0", "strokeWidth": 1.5},
 "encoding": {"x": {"field": "t", "type": "quantitative"}, "y": {"field": "v", "type": "quantitative"}, "order": {"value": null}}}
]
}
]
}
